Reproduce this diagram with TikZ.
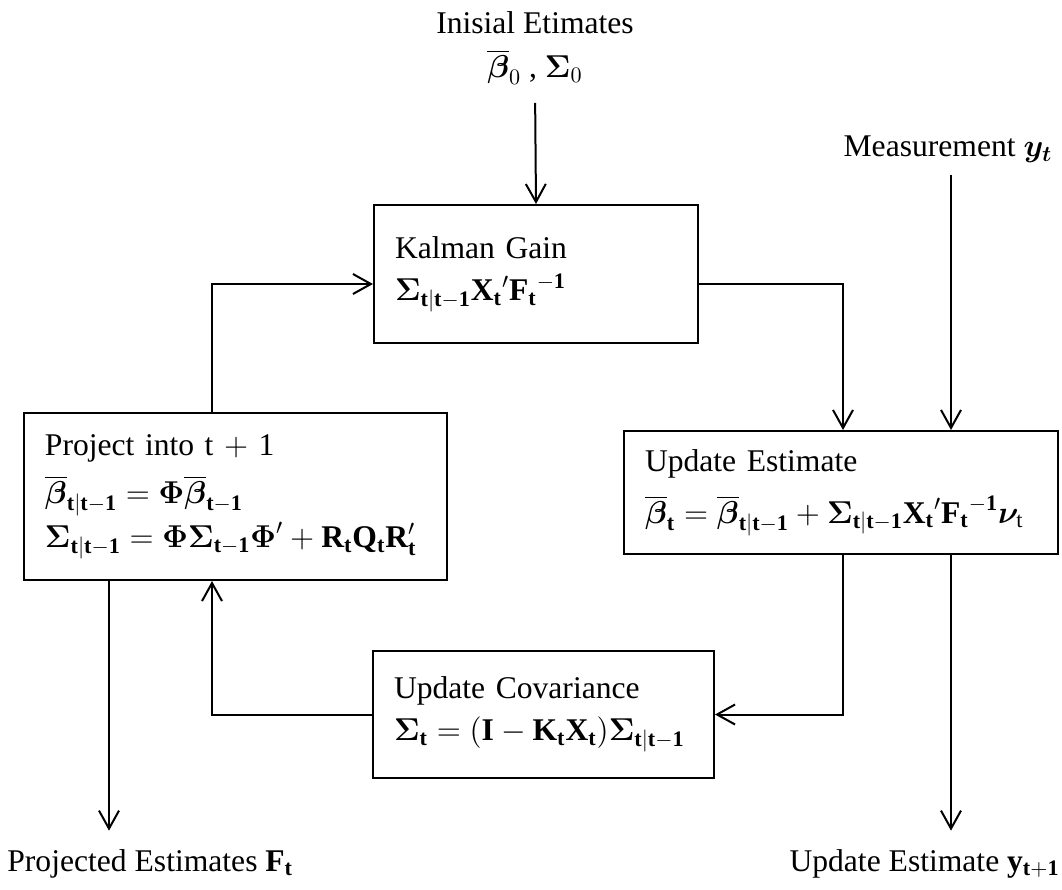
\documentclass[tikz,border=0pt]{standalone}
\usepackage{fix-cm}
\usepackage{amsmath,bm}
\usepackage{fontspec}
\setmainfont{Liberation Serif}
\usetikzlibrary{arrows.meta,positioning}
\relpenalty=10000
\binoppenalty=10000

\newcommand{\condt}{\mathbf{t|t-1}}
\newcommand{\prevt}{\mathbf{t-1}}
\newcommand{\bbeta}{\overline{\bm{\beta}}}

\begin{document}
\begin{tikzpicture}[
  x=0.5pt,
  y=-0.5pt,
  font=\fontsize{15.8}{19}\selectfont,
  >={Straight Barb[length=9pt,width=10pt]},
  stepbox/.style={
    draw,
    line width=1pt,
    anchor=north west,
    align=left,
    inner xsep=10.5pt,
    inner ysep=0pt
  },
  endtext/.style={
    inner sep=0pt,
    align=center
  },
  flow/.style={->,line width=1pt}
]
  \useasboundingbox (0,0) rectangle (1062,890);

  % Filter stages.
  \node[stepbox,text width=141pt,minimum height=69pt] (gain) at (373,204) {
    Kalman Gain\\[2pt]
    $\bm{\Sigma}_{\condt}{\mathbf{X}_{\mathbf{t}}}'{\mathbf{F}_{\mathbf{t}}}^{-\mathbf{1}}$
  };
  \node[stepbox,text width=190.5pt,minimum height=83.5pt] (proj) at (23,412) {
    Project into t $+$ 1\\[5pt]
    $\bbeta_{\condt} = \bm{\Phi}\bbeta_{\prevt}$\\[2pt]
    $\bm{\Sigma}_{\condt} = \bm{\Phi}\bm{\Sigma}_{\prevt}\bm{\Phi}' + \mathbf{R_tQ_tR'_t}$
  };
  \node[stepbox,text width=196pt,minimum height=61.5pt] (update) at (623,430) {
    Update Estimate\\[7pt]
    $\bbeta_{\mathbf{t}} = \bbeta_{\condt} + \bm{\Sigma}_{\condt}{\mathbf{X}_{\mathbf{t}}}'{\mathbf{F}_{\mathbf{t}}}^{-\mathbf{1}}\bm{\nu}_{\mathrm{t}}$
  };
  \node[stepbox,text width=149.5pt,minimum height=63.5pt] (cov) at (372,650) {
    Update Covariance\\[2pt]
    $\bm{\Sigma}_{\mathbf{t}} = (\mathbf{I} - \mathbf{K_tX_t})\bm{\Sigma}_{\condt}$
  };

  % Inputs and outputs.
  \node[endtext] (init) at (535,48) {
    Inisial Etimates\\[3pt]
    $\bbeta_0$ , $\bm{\Sigma}_0$
  };
  \node[endtext] (meas) at (948,149) {Measurement $\bm{y_t}$};
  \node[endtext,anchor=base west] (projout) at (7,871) {Projected Estimates $\mathbf{F_t}$};
  \node[endtext,anchor=base east] (updout) at (1060,871) {Update Estimate $\mathbf{y_{t+1}}$};

  \coordinate (inA) at ([xshift=110pt]update.north west);
  \coordinate (inB) at ([xshift=164pt]update.north west);
  \coordinate (projup) at ([xshift=94.5pt]proj.north west);
  \coordinate (projback) at ([xshift=94.5pt]proj.south west);
  \coordinate (projdown) at ([xshift=43pt]proj.south west);

  \draw[flow,shorten <=9pt] (init.south) -- (gain.north);
  \draw[flow] ([yshift=-5pt]gain.east) -| (inA);
  \draw[flow,shorten <=6pt] (meas.south -| inB) -- (inB);
  \draw[flow] (projup) |- ([yshift=-5pt]gain.west);
  \draw[flow] (inA |- update.south) |- (cov.east);
  \draw[flow,shorten >=9pt] (inB |- update.south) -- (inB |- updout.north);
  \draw[flow] (cov.west) -| (projback);
  \draw[flow,shorten >=9pt] (projdown) -- (projdown |- projout.north);
\end{tikzpicture}
\end{document}
